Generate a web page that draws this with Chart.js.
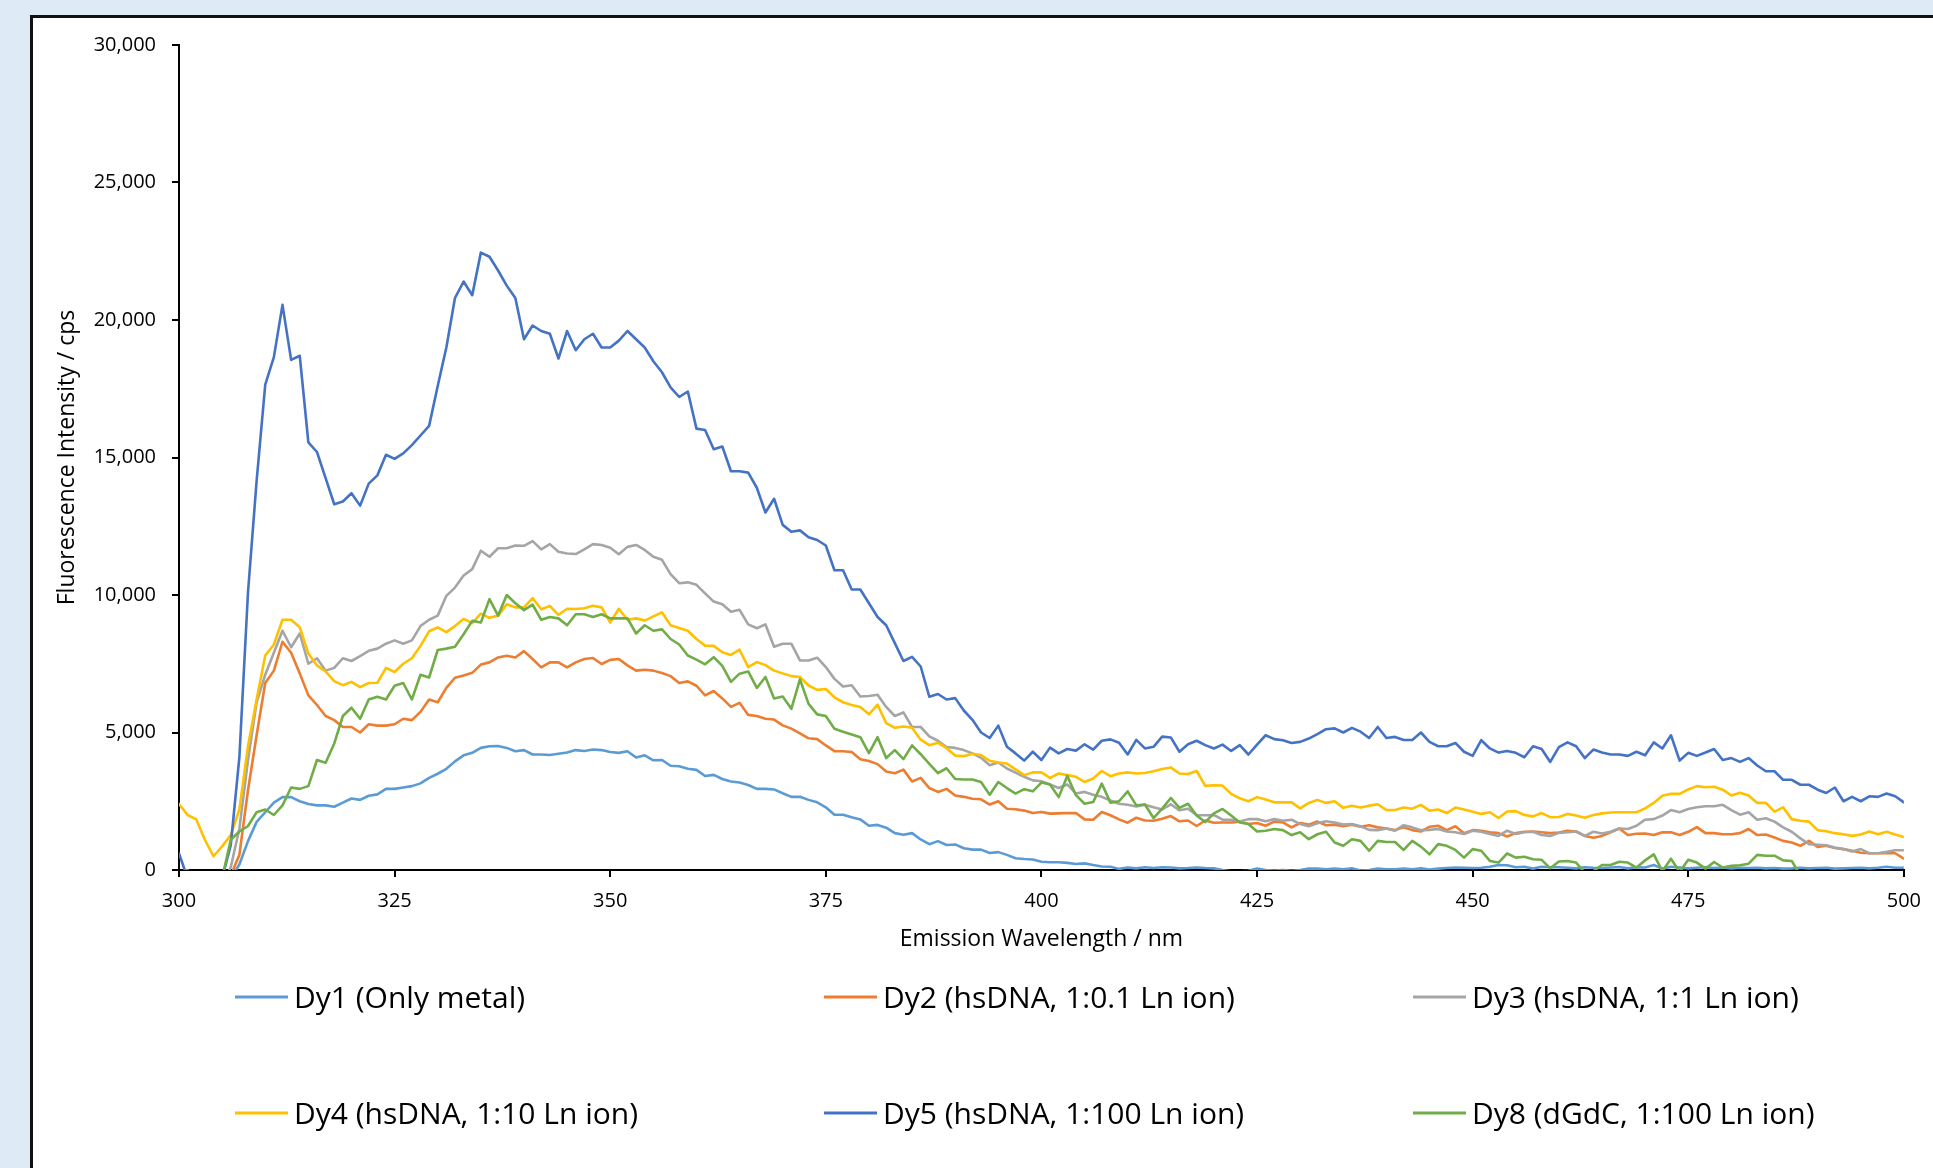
<!DOCTYPE html>
<html>
<head>
<meta charset="utf-8">
<title>Dy emission spectra</title>
<script src="https://cdn.jsdelivr.net/npm/chart.js@4.4.1/dist/chart.umd.min.js"></script>
<style>
  html, body { margin: 0; padding: 0; }
  body { width: 1933px; height: 1168px; background: #deebf7; overflow: hidden; position: relative; }
  .panel {
    position: absolute; left: 30px; top: 15px; right: -10px; bottom: -10px;
    background: #fff; border-left: 3px solid #111; border-top: 3px solid #111;
  }
  #spectra { position: absolute; left: 0; top: 0; }
</style>
</head>
<body>
<div class="panel"></div>
<canvas id="spectra" width="1933" height="1168"></canvas>
<script>
// =============================
// DATA (cps, one value per nm, 300-500 nm)
// =============================
const wavelengths = [];
for (let nm = 300; nm <= 500; nm++) wavelengths.push(nm);

const seriesNames = [
  'Dy1 (Only metal)',
  'Dy2 (hsDNA, 1:0.1 Ln ion)',
  'Dy3 (hsDNA, 1:1 Ln ion)',
  'Dy4 (hsDNA, 1:10 Ln ion)',
  'Dy5 (hsDNA, 1:100 Ln ion)',
  'Dy8 (dGdC, 1:100 Ln ion)'
];

const dy1 = [
  -300, -300, -300, -300, -300, -300, -300, 200, 1050, 1750,
  2100, 2450, 2650, 2650, 2500, 2400, 2350, 2350, 2300, 2450,
  2600, 2550, 2700, 2750, 2950, 2950, 3000, 3050, 3150, 3350,
  3500, 3680, 3950, 4170, 4260, 4440, 4500, 4510, 4440, 4320,
  4360, 4200, 4200, 4180, 4230, 4270, 4360, 4330, 4380, 4360,
  4290, 4260, 4320, 4090, 4170, 3990, 4000, 3790, 3770, 3680,
  3640, 3420, 3460, 3310, 3220, 3180, 3090, 2950, 2950, 2930,
  2790, 2660, 2660, 2550, 2460, 2280, 2010, 2010, 1920, 1840,
  1610, 1640, 1540, 1340, 1280, 1340, 1110, 940, 1050, 910,
  930, 790, 740, 740, 620, 650, 550, 430, 400, 380,
  300, 280, 280, 260, 220, 240, 180, 130, 120, 40,
  90, 60, 100, 70, 100, 90, 60, 70, 90, 70,
  60, 0, -50, -50, -30, 50, 0, -20, 0, -30,
  0, 50, 50, 30, 50, 30, 60, -20, 0, 50,
  30, 30, 50, 30, 60, 20, 50, 70, 90, 80,
  70, 80, 120, 180, 170, 100, 120, 50, 120, 100,
  100, 80, 60, 100, 80, 70, 90, 110, 60, 100,
  90, 180, 50, 120, 90, 60, 80, 100, 70, 90,
  60, 80, 70, 80, 60, 70, 50, 60, 80, 60,
  70, 80, 50, 60, 70, 80, 60, 80, 120, 80,
  80
];

const dy2 = [
  -500, -500, -500, -500, -500, -500, -200, 550, 2900, 4900,
  6800, 7250, 8300, 7900, 7150, 6350, 6000, 5600, 5450, 5200,
  5200, 5000, 5300, 5250, 5250, 5300, 5500, 5450, 5750, 6200,
  6100, 6620, 6990, 7070, 7170, 7470, 7550, 7730, 7790, 7730,
  7960, 7670, 7370, 7550, 7550, 7370, 7550, 7670, 7710, 7490,
  7640, 7670, 7440, 7250, 7280, 7250, 7160, 7050, 6800, 6860,
  6700, 6350, 6510, 6240, 5930, 6080, 5640, 5600, 5500, 5470,
  5260, 5140, 4970, 4790, 4760, 4530, 4320, 4320, 4290, 4030,
  3960, 3850, 3580, 3520, 3650, 3220, 3350, 2980, 2840, 2950,
  2710, 2660, 2590, 2570, 2380, 2500, 2230, 2210, 2160, 2070,
  2110, 2050, 2060, 2070, 2070, 1840, 1830, 2110, 1990, 1840,
  1720, 1900, 1800, 1790, 1860, 1960, 1770, 1800, 1600, 1800,
  1720, 1730, 1730, 1760, 1670, 1710, 1610, 1760, 1730, 1550,
  1710, 1650, 1760, 1630, 1650, 1590, 1650, 1570, 1630, 1550,
  1510, 1450, 1550, 1450, 1400, 1570, 1610, 1450, 1590, 1340,
  1450, 1430, 1370, 1340, 1220, 1340, 1390, 1400, 1370, 1340,
  1360, 1430, 1400, 1240, 1170, 1240, 1370, 1510, 1270, 1320,
  1330, 1270, 1370, 1370, 1270, 1390, 1560, 1340, 1340, 1300,
  1300, 1340, 1490, 1270, 1290, 1180, 1060, 1000, 880, 1060,
  840, 880, 800, 760, 700, 630, 610, 610, 610, 610,
  410
];

const dy3 = [
  -500, -500, -500, -500, -500, -500, 100, 1500, 4000, 6100,
  7100, 7900, 8700, 8100, 8600, 7500, 7700, 7250, 7350, 7700,
  7600, 7780, 7970, 8050, 8230, 8350, 8230, 8350, 8870, 9100,
  9250, 9970, 10270, 10710, 10940, 11610, 11390, 11700, 11700, 11800,
  11790, 11960, 11660, 11850, 11570, 11510, 11490, 11660, 11850, 11820,
  11720, 11480, 11750, 11820, 11640, 11390, 11280, 10760, 10430, 10460,
  10370, 10060, 9760, 9660, 9390, 9460, 8930, 8790, 8930, 8120,
  8230, 8230, 7620, 7620, 7720, 7380, 6950, 6670, 6720, 6310,
  6330, 6370, 5930, 5600, 5730, 5200, 5200, 4860, 4700, 4470,
  4440, 4360, 4240, 4080, 3810, 3910, 3690, 3540, 3390, 3260,
  3230, 3110, 2980, 3110, 2780, 2840, 2740, 2660, 2530, 2410,
  2370, 2310, 2370, 2280, 2200, 2390, 2170, 2230, 1990, 1990,
  2000, 1830, 1830, 1760, 1850, 1850, 1770, 1850, 1790, 1830,
  1670, 1590, 1700, 1770, 1730, 1650, 1670, 1590, 1460, 1450,
  1510, 1430, 1630, 1550, 1450, 1460, 1490, 1400, 1370, 1310,
  1430, 1390, 1310, 1240, 1430, 1310, 1370, 1390, 1270, 1240,
  1350, 1370, 1400, 1240, 1390, 1330, 1390, 1510, 1490, 1610,
  1830, 1850, 1980, 2180, 2100, 2220, 2280, 2320, 2320, 2370,
  2180, 2010, 2100, 1830, 1880, 1760, 1550, 1390, 1150, 940,
  920, 900, 820, 760, 670, 760, 610, 610, 660, 720,
  720
];

const dy4 = [
  2400, 2000, 1840, 1100, 500, 860, 1270, 2200, 4500, 6200,
  7800, 8200, 9100, 9100, 8830, 7870, 7440, 7220, 6870, 6720,
  6840, 6650, 6800, 6810, 7350, 7200, 7500, 7700, 8150, 8680,
  8820, 8650, 8870, 9130, 8980, 9320, 9170, 9250, 9660, 9550,
  9550, 9890, 9480, 9600, 9280, 9500, 9490, 9520, 9610, 9550,
  9000, 9500, 9100, 9150, 9070, 9220, 9370, 8900, 8800, 8700,
  8400, 8160, 8150, 7920, 7820, 8010, 7380, 7560, 7450, 7250,
  7150, 7050, 7020, 6710, 6550, 6580, 6280, 6100, 6000, 5930,
  5660, 6010, 5340, 5170, 5220, 5170, 4740, 4540, 4630, 4430,
  4160, 4140, 4230, 4180, 3970, 3910, 3870, 3660, 3450, 3550,
  3550, 3350, 3510, 3450, 3390, 3200, 3330, 3600, 3410, 3510,
  3550, 3510, 3530, 3590, 3670, 3730, 3510, 3490, 3600, 3060,
  3080, 3070, 2770, 2610, 2500, 2650, 2560, 2460, 2460, 2460,
  2240, 2440, 2550, 2440, 2500, 2260, 2340, 2270, 2340, 2390,
  2180, 2180, 2270, 2230, 2370, 2160, 2200, 2070, 2270, 2200,
  2120, 2040, 2100, 1890, 2130, 2140, 2000, 1950, 2070, 1920,
  1930, 2040, 1980, 1900, 2000, 2060, 2090, 2100, 2100, 2100,
  2240, 2440, 2700, 2770, 2770, 2930, 3050, 3010, 3030, 2920,
  2710, 2810, 2710, 2440, 2440, 2120, 2280, 1850, 1790, 1760,
  1450, 1410, 1340, 1300, 1240, 1290, 1400, 1300, 1390, 1290,
  1200
];

const dy5 = [
  600, -300, -800, -800, -600, -300, 900, 4100, 10100, 14150,
  17650, 18650, 20550, 18550, 18700, 15550, 15200, 14250, 13300, 13400,
  13700, 13250, 14050, 14350, 15100, 14950, 15150, 15450, 15800, 16150,
  17600, 19000, 20800, 21400, 20900, 22450, 22300, 21800, 21250, 20800,
  19300, 19800, 19600, 19500, 18600, 19600, 18900, 19300, 19500, 19000,
  19000, 19250, 19600, 19300, 19000, 18500, 18100, 17550, 17200, 17400,
  16050, 16000, 15300, 15400, 14500, 14500, 14450, 13900, 13000, 13500,
  12550, 12300, 12350, 12100, 12000, 11800, 10900, 10900, 10200, 10200,
  9700, 9200, 8900, 8250, 7600, 7750, 7400, 6300, 6400, 6200,
  6250, 5800, 5460, 5000, 4800, 5250, 4480, 4240, 3980, 4300,
  4000, 4450, 4240, 4400, 4340, 4570, 4380, 4700, 4750, 4630,
  4200, 4730, 4420, 4480, 4850, 4820, 4300, 4570, 4700, 4540,
  4420, 4560, 4330, 4540, 4200, 4560, 4900, 4760, 4720, 4620,
  4660, 4780, 4940, 5120, 5150, 5000, 5170, 5030, 4800, 5200,
  4800, 4840, 4730, 4730, 5000, 4660, 4500, 4500, 4620, 4300,
  4150, 4720, 4420, 4270, 4330, 4260, 4100, 4500, 4400, 3930,
  4470, 4640, 4500, 4070, 4380, 4270, 4200, 4200, 4150, 4300,
  4170, 4640, 4420, 4900, 3980, 4260, 4150, 4270, 4400, 4000,
  4070, 3930, 4070, 3800, 3590, 3590, 3280, 3280, 3100, 3100,
  2920, 2800, 3000, 2500, 2660, 2500, 2680, 2660, 2780, 2680,
  2460
];

const dy8 = [
  -100, 0, -600, -800, -800, -300, 1100, 1400, 1600, 2100,
  2200, 2000, 2350, 3000, 2950, 3050, 4000, 3900, 4600, 5600,
  5900, 5500, 6200, 6300, 6200, 6700, 6800, 6200, 7100, 7000,
  8000, 8050, 8120, 8570, 9060, 9000, 9850, 9250, 10000, 9700,
  9450, 9650, 9100, 9200, 9150, 8900, 9300, 9300, 9200, 9300,
  9150, 9150, 9150, 8600, 8900, 8700, 8750, 8400, 8200, 7800,
  7650, 7480, 7740, 7420, 6840, 7140, 7220, 6620, 7020, 6240,
  6310, 5860, 6930, 6040, 5660, 5600, 5140, 5030, 4930, 4830,
  4250, 4830, 4070, 4360, 4030, 4530, 4210, 3860, 3520, 3700,
  3310, 3290, 3290, 3200, 2740, 3200, 2980, 2780, 2940, 2860,
  3180, 3110, 2650, 3420, 2720, 2410, 2470, 3140, 2450, 2500,
  2860, 2350, 2380, 1890, 2230, 2620, 2260, 2410, 1980, 1740,
  2060, 2220, 1980, 1730, 1670, 1400, 1430, 1490, 1450, 1270,
  1370, 1120, 1300, 1390, 1000, 880, 1120, 1060, 700, 1060,
  1020, 1020, 730, 1060, 850, 570, 940, 880, 730, 450,
  760, 700, 330, 270, 600, 450, 480, 390, 370, 60,
  310, 330, 270, -100, -40, 180, 180, 300, 270, 90,
  350, 570, -40, 410, -70, 370, 270, 50, 290, 90,
  150, 170, 230, 550, 520, 520, 350, 330, -200, null,
  null, null, null, null, null, null, null, null, null, null,
  null
];

const yTicks = [0, 5000, 10000, 15000, 20000, 25000, 30000];
const xTicks = [300, 325, 350, 375, 400, 425, 450, 475, 500];

// =============================
// STYLE
// =============================
const colors = ['#5b9bd5', '#ed7d31', '#a5a5a5', '#ffc000', '#4472c4', '#70ad47'];
const FONT = '"Open Sans", "Noto Sans", sans-serif';

// legend layout (3 columns x 2 rows under the x axis)
const legendCols = [235, 824, 1413];
const legendRows = [997, 1113];

const legendPlugin = {
  id: 'gridLegend',
  afterDraw(chart) {
    const ctx = chart.ctx;
    ctx.save();
    ctx.font = '30px ' + FONT;
    ctx.textBaseline = 'alphabetic';
    ctx.textAlign = 'left';
    chart.data.datasets.forEach((ds, i) => {
      const x = legendCols[i % 3];
      const y = legendRows[Math.floor(i / 3)];
      ctx.strokeStyle = ds.borderColor;
      ctx.lineWidth = 3;
      ctx.beginPath();
      ctx.moveTo(x, y);
      ctx.lineTo(x + 53, y);
      ctx.stroke();
      ctx.fillStyle = '#000';
      ctx.fillText(ds.label, x + 59, y + 10.5);
    });
    ctx.restore();
  }
};

// =============================
// CHART
// =============================
function buildChart() {
  const series = [dy1, dy2, dy3, dy4, dy5, dy8];

  const datasets = series.map((values, i) => ({
    label: seriesNames[i],
    data: values,
    borderColor: colors[i],
    backgroundColor: colors[i],
    borderWidth: 2.6,
    pointRadius: 0,
    tension: 0,
    borderJoinStyle: 'round',
    borderCapStyle: 'round',
    spanGaps: false,
    order: series.length - i
  }));

  new Chart(document.getElementById('spectra'), {
    type: 'line',
    data: { labels: wavelengths, datasets },
    options: {
      responsive: false,
      animation: false,
      events: [],
      layout: { padding: { left: 0, top: 45, right: 26, bottom: 215 } },
      plugins: {
        legend: { display: false },
        tooltip: { enabled: false }
      },
      scales: {
        x: {
          type: 'linear',
          min: 300,
          max: 500,
          afterFit: s => { s.height = 83; },
          afterBuildTicks: s => { s.ticks = xTicks.map(v => ({ value: v })); },
          ticks: { color: '#000', font: { family: FONT, size: 20 }, padding: 12, maxRotation: 0 },
          grid: { drawOnChartArea: false, drawTicks: true, tickLength: 7, color: '#000', lineWidth: 2 },
          border: { display: true, color: '#000', width: 2 },
          title: {
            display: true,
            text: 'Emission Wavelength / nm',
            color: '#000',
            font: { family: FONT, size: 23 },
            padding: { top: 0, bottom: 0 }
          }
        },
        y: {
          min: 0,
          max: 30000,
          afterFit: s => { s.width = 179; },
          afterBuildTicks: s => { s.ticks = yTicks.map(v => ({ value: v })); },
          ticks: {
            color: '#000',
            font: { family: FONT, size: 20 },
            padding: 16,
            callback: v => v.toLocaleString('en-US')
          },
          grid: { drawOnChartArea: false, drawTicks: true, tickLength: 7, color: '#000', lineWidth: 2 },
          border: { display: true, color: '#000', width: 2 },
          title: {
            display: true,
            text: 'Fluorescence Intensity / cps',
            color: '#000',
            font: { family: FONT, size: 23 },
            padding: { top: 54, bottom: 0 }
          }
        }
      }
    },
    plugins: [legendPlugin]
  });
}

document.fonts.load('20px "Open Sans"').then(buildChart, buildChart);
</script>
</body>
</html>
